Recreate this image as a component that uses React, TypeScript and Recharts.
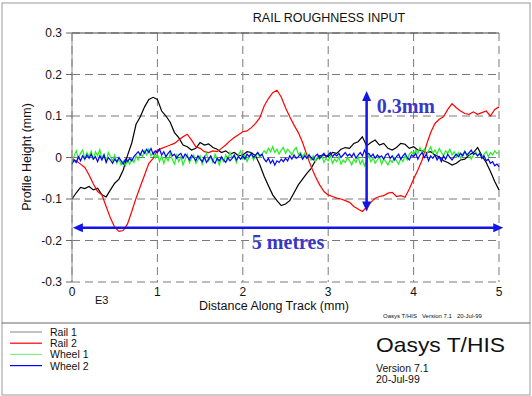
import { LineChart, Line, XAxis, YAxis, CartesianGrid, ReferenceLine } from "recharts";

const RAIL_STEP = 0.05;
const WHEEL_STEP = 0.025;

const xTicks = [0, 1, 2, 3, 4, 5];
const yTicks = [-0.3, -0.2, -0.1, 0, 0.1, 0.2, 0.3];

// profile heights (mm), sampled every RAIL_STEP (E3 mm) along the track
const rail1 = [
  -0.1, -0.085, -0.072, -0.075, -0.07, -0.078, -0.074, -0.09, -0.095, -0.078,
  -0.062, -0.052, -0.03, 0.005, 0.035, 0.08, 0.098, 0.122, 0.14, 0.145,
  0.14, 0.112, 0.1, 0.085, 0.06, 0.048, 0.03, 0.026, 0.018, 0.022,
  0.036, 0.03, 0.033, 0.024, 0.02, 0.012, 0.016, 0.008, 0.012, 0.004,
  0.006, 0.014, 0.012, 0.004, -0.018, -0.045, -0.068, -0.09, -0.104, -0.116,
  -0.112, -0.104, -0.085, -0.066, -0.052, -0.038, -0.026, -0.008, 0.004, 0.006,
  0.002, 0.012, 0.01, 0.02, 0.024, 0.022, 0.034, 0.038, 0.05, 0.028,
  0.036, 0.042, 0.03, 0.034, 0.022, 0.018, 0.024, 0.034, 0.032, 0.022,
  0.026, 0.018, 0.016, 0.012, 0.014, 0.006, 0.002, -0.008, -0.012, -0.018,
  -0.014, -0.006, -0.004, 0.006, 0.012, 0.024, 0.004, -0.012, -0.034, -0.058,
  -0.078,
];

const rail2 = [
  -0.004, -0.008, -0.016, -0.024, -0.042, -0.064, -0.082, -0.09, -0.118, -0.146,
  -0.168, -0.178, -0.176, -0.16, -0.13, -0.098, -0.07, -0.042, -0.014, -0.002,
  0.018, 0.022, 0.026, 0.03, 0.034, 0.042, 0.05, 0.056, 0.042, 0.026,
  0.022, 0.014, 0.012, 0.016, 0.014, 0.022, 0.03, 0.04, 0.048, 0.055,
  0.062, 0.064, 0.072, 0.082, 0.096, 0.124, 0.142, 0.156, 0.162, 0.146,
  0.12, 0.098, 0.078, 0.06, 0.036, 0.006, -0.022, -0.046, -0.066, -0.082,
  -0.09, -0.094, -0.098, -0.1, -0.104, -0.108, -0.118, -0.124, -0.13, -0.12,
  -0.108, -0.098, -0.094, -0.092, -0.086, -0.084, -0.094, -0.092, -0.096, -0.076,
  -0.052, -0.03, -0.006, 0.03, 0.06, 0.082, 0.092, 0.098, 0.116, 0.13,
  0.12, 0.112, 0.106, 0.104, 0.11, 0.104, 0.108, 0.112, 0.1, 0.116,
  0.122,
];

// wheels sampled every WHEEL_STEP
const wheel1 = [
  -0.012, 0.004, 0.016, -0.002, 0.01, 0.018, -0.004, 0.012, 0.002, 0.015,
  -0.006, 0.014, 0.004, 0.019, -0.002, 0.008, -0.01, 0.012, 0.002, -0.008,
  0.006, -0.014, -0.004, -0.018, -0.008, -0.02, -0.006, -0.016, -0.002, -0.012,
  0.004, -0.006, 0.01, 0.002, 0.016, 0.006, 0.02, 0.004, 0.012, -0.002,
  0.008, -0.01, 0.004, -0.014, 0.002, -0.008, 0.01, -0.004, -0.016, 0.006,
  -0.01, 0.002, -0.018, -0.004, 0.008, -0.012, -0.002, 0.006, -0.014, -0.006,
  0.004, -0.016, -0.002, 0.01, -0.008, 0.002, -0.012, 0.008, -0.004, -0.018,
  0.0, -0.01, 0.006, -0.006, 0.012, -0.002, 0.004, -0.012, 0.008, 0.016,
  -0.004, 0.006, -0.01, 0.002, 0.01, -0.006, 0.004, 0.012, 0.0, 0.008,
  0.016, 0.01, 0.022, 0.014, 0.026, 0.012, 0.02, 0.008, 0.018, 0.024,
  0.01, 0.02, 0.014, 0.006, 0.018, 0.024, 0.008, 0.012, 0.002, 0.01,
  -0.002, 0.008, -0.006, 0.004, -0.01, 0.002, -0.004, 0.006, -0.012, -0.002,
  -0.008, 0.004, -0.014, -0.004, -0.01, 0.002, -0.016, -0.006, -0.012, 0.0,
  -0.008, -0.018, -0.004, -0.012, 0.002, -0.016, -0.006, -0.02, -0.008, 0.004,
  -0.01, -0.002, -0.014, -0.006, 0.002, -0.016, -0.004, -0.01, -0.018, -0.006,
  -0.012, 0.0, -0.008, -0.016, -0.002, -0.01, 0.004, -0.006, 0.008, 0.014,
  0.006, 0.018, 0.01, 0.024, 0.012, 0.02, 0.006, 0.016, 0.026, 0.01,
  0.018, 0.008, 0.022, 0.012, 0.004, 0.016, 0.01, 0.02, 0.006, 0.014,
  0.002, 0.012, -0.002, 0.008, 0.016, 0.004, 0.01, -0.004, 0.006, 0.014,
  0.004, 0.01, -0.002, 0.008, 0.014, 0.002, 0.012, 0.006, 0.016, 0.01,
  0.012,
];

const wheel2 = [
  -0.016, -0.006, -0.012, 0.002, -0.008, 0.004, -0.004, 0.006, -0.002, 0.008,
  -0.004, 0.002, -0.01, 0.004, -0.006, 0.006, -0.012, 0.0, -0.006, -0.014,
  -0.004, -0.01, 0.0, -0.008, -0.016, -0.004, -0.01, -0.002, -0.008, 0.002,
  0.008, 0.014, 0.006, 0.018, 0.01, 0.02, 0.012, 0.022, 0.008, 0.016,
  0.012, 0.02, 0.006, 0.014, 0.002, 0.01, 0.016, 0.004, 0.008, -0.002,
  0.006, 0.01, -0.002, 0.008, 0.002, -0.006, 0.006, 0.0, -0.008, 0.004,
  -0.004, -0.01, 0.002, -0.012, -0.004, 0.004, -0.008, -0.014, -0.002, -0.008,
  0.002, -0.006, -0.012, 0.0, -0.008, -0.002, 0.006, -0.006, 0.002, -0.004,
  0.004, -0.004, 0.008, 0.002, 0.01, 0.0, 0.006, 0.012, 0.004, 0.008,
  -0.004, -0.01, -0.002, -0.014, -0.006, -0.018, -0.008, -0.012, -0.004, -0.01,
  -0.002, -0.008, 0.004, -0.004, 0.006, -0.002, 0.002, 0.008, -0.004, 0.004,
  -0.002, 0.006, 0.0, -0.006, 0.004, 0.008, -0.002, 0.004, 0.01, 0.002,
  0.006, 0.012, 0.002, 0.008, 0.004, 0.01, 0.0, 0.006, 0.012, 0.004,
  0.008, 0.002, 0.01, -0.002, 0.006, 0.012, 0.004, 0.018, 0.006, 0.01,
  0.002, 0.008, -0.002, 0.006, 0.0, 0.004, -0.004, 0.006, 0.01, -0.002,
  0.004, -0.006, 0.002, 0.008, -0.004, 0.004, 0.01, 0.0, -0.006, 0.006,
  0.002, 0.01, -0.004, 0.006, 0.012, 0.0, 0.008, -0.008, 0.004, -0.002,
  0.006, -0.006, 0.002, -0.01, 0.004, -0.004, 0.008, 0.0, -0.006, 0.002,
  0.008, 0.002, 0.01, 0.004, 0.014, 0.006, 0.012, 0.018, 0.008, 0.01,
  0.004, 0.01, -0.002, 0.004, -0.008, -0.004, -0.014, -0.01, -0.02, -0.016,
  -0.022,
];

const seriesNames = ["Rail 1", "Rail 2", "Wheel 1", "Wheel 2"];
const seriesColors = ["#000000", "#ff0000", "#22ee22", "#0000ff"];
const legendColors = ["#999999", "#ff0000", "#88ee88", "#0000ff"];

// annotation arrows (data coords)
const heightArrow = [{ x: 3.45, y: 0.16 }, { x: 3.45, y: -0.13 }];
const lengthArrow = [{ x: 0.01, y: -0.169 }, { x: 5.05, y: -0.169 }];

const toPoints = (vals: number[], step: number) =>
  vals.map((v, i) => ({ x: Math.round(i * step * 1000) / 1000, y: v }));

const seriesData = [
  toPoints(rail1, RAIL_STEP),
  toPoints(rail2, RAIL_STEP),
  toPoints(wheel1, WHEEL_STEP),
  toPoints(wheel2, WHEEL_STEP),
];

const ARROW = "#1414e6";
const NOTE = "#3838c8";
const SANS = "'Liberation Sans', Arial, sans-serif";
const SERIF = "'Liberation Serif', 'Times New Roman', serif";

const head = (x: number, y: number, a: number) => {
  const len = 10;
  const w = 4.5;
  const bx = x - len * Math.cos(a);
  const by = y - len * Math.sin(a);
  const px = -Math.sin(a) * w;
  const py = Math.cos(a) * w;
  return `${x},${y} ${bx + px},${by + py} ${bx - px},${by - py}`;
};

const makeArrow = (text: string, place: "right" | "below") => (p: any) => {
  const { x1, y1, x2, y2 } = p;
  const a = Math.atan2(y2 - y1, x2 - x1);
  const tx = place === "right" ? x1 + 10 : (x1 + x2) / 2;
  const ty = place === "right" ? y1 + 22 : y1 + 21;
  return (
    <g>
      <line
        x1={x1 + 8 * Math.cos(a)}
        y1={y1 + 8 * Math.sin(a)}
        x2={x2 - 8 * Math.cos(a)}
        y2={y2 - 8 * Math.sin(a)}
        stroke={ARROW}
        strokeWidth={2.5}
      />
      <polygon points={head(x2, y2, a)} fill={ARROW} />
      <polygon points={head(x1, y1, a + Math.PI)} fill={ARROW} />
      <text
        x={tx}
        y={ty}
        textAnchor={place === "right" ? "start" : "middle"}
        fill={NOTE}
        fontFamily={SERIF}
        fontWeight="bold"
        fontSize={20}
      >
        {text}
      </text>
    </g>
  );
};

const App = () => {
  return (
    <div style={{ position: "absolute", left: 0, top: 0, width: 532, height: 396, background: "#fff" }}>
      <LineChart
        width={532}
        height={396}
        margin={{ top: 33, right: 33, bottom: 84, left: 12 }}
      >
        <CartesianGrid stroke="#7a7a7a" strokeDasharray="8 5" />
        <XAxis
          type="number"
          dataKey="x"
          domain={[0, 5]}
          ticks={xTicks}
          allowDuplicatedCategory={false}
          axisLine={false}
          tickLine={false}
          tickSize={4}
          tickMargin={1}
          height={30}
          tick={{ fill: "#111", fontSize: 12, fontFamily: SANS }}
        />
        <YAxis
          type="number"
          domain={[-0.3, 0.3]}
          ticks={yTicks}
          width={60}
          tickSize={6}
          tickMargin={4}
          axisLine={{ stroke: "#888" }}
          tickLine={{ stroke: "#666" }}
          tick={{ fill: "#111", fontSize: 12, fontFamily: SANS }}
          tickFormatter={(v: number) => String(v)}
        />
        <ReferenceLine y={0.3} stroke="#444" />
        {seriesData.map((d, i) => (
          <Line
            key={seriesNames[i]}
            data={d}
            dataKey="y"
            name={seriesNames[i]}
            type="linear"
            stroke={seriesColors[i]}
            strokeWidth={1.2}
            dot={false}
            isAnimationActive={false}
          />
        ))}
        <ReferenceLine segment={heightArrow} ifOverflow="visible" shape={makeArrow("0.3mm", "right")} />
        <ReferenceLine segment={lengthArrow} ifOverflow="visible" shape={makeArrow("5 metres", "below")} />
      </LineChart>

      <svg
        width={532}
        height={396}
        style={{ position: "absolute", left: 0, top: 0, pointerEvents: "none" }}
        fontFamily={SANS}
      >
        <rect x={2} y={3} width={528} height={392} fill="none" stroke="#999" />
        <line x1={2} y1={323} x2={530} y2={323} stroke="#666" />
        <text x={329} y={22} textAnchor="middle" fontSize={12.5} fill="#111">
          RAIL ROUGHNESS INPUT
        </text>
        <text
          x={31}
          y={157}
          textAnchor="middle"
          fontSize={12.5}
          fill="#111"
          transform="rotate(-90 31 157)"
        >
          Profile Height (mm)
        </text>
        <text x={274} y={310} textAnchor="middle" fontSize={12.5} fill="#111">
          Distance Along Track (mm)
        </text>
        <text x={95} y={304} fontSize={11} fill="#111">
          E3
        </text>
        <text x={383} y={318} fontSize={6} fill="#111" style={{ whiteSpace: "pre" }}>
          {"Oasys T/HIS   Version 7.1   20-Jul-99"}
        </text>
        {seriesNames.map((n, i) => (
          <g key={n}>
            <line x1={10} x2={42} y1={332 + i * 11.2} y2={332 + i * 11.2} stroke={legendColors[i]} strokeWidth={1.2} />
            <text x={50} y={336 + i * 11.2} fontSize={10.5} fill="#111">
              {n}
            </text>
          </g>
        ))}
        <text x={376} y={352} fontSize={21} fill="#111" textLength={129} lengthAdjust="spacingAndGlyphs">
          Oasys T/HIS
        </text>
        <text x={376} y={372} fontSize={10.5} fill="#111">
          Version 7.1
        </text>
        <text x={376} y={383} fontSize={10.5} fill="#111">
          20-Jul-99
        </text>
      </svg>
    </div>
  );
};

export default App;
